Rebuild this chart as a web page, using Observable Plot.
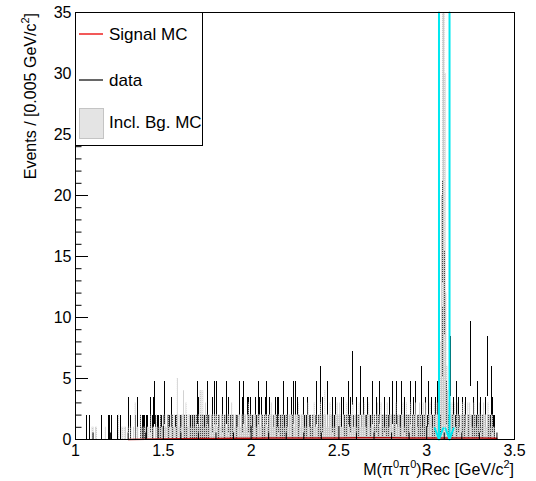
<!DOCTYPE html>
<html><head><meta charset="utf-8">
<script src="https://cdn.jsdelivr.net/npm/d3@7"></script>
<script src="https://cdn.jsdelivr.net/npm/@observablehq/plot@0.6"></script>
<style>body{margin:0;background:#fff} svg{display:block}</style>
</head><body><div id="chart"></div>
<script>
// Histogram binning: 0.005 GeV/c^2 bins starting at 1.000
const binStart = 1.0;
const binWidth = 0.005;

// Data counts per bin (rows of 20 bins = 0.1 GeV/c^2), 1.00 .. 3.40
const dataCounts = [
  0,0,0,0,0,0,0,0,0,0,0,0,1,0,0,0,1,0,0,0,
  0,0,0,0,0,0,0,0,0,1,0,0,0,0,0,0,0,1,1,0,
  1,1,0,0,0,0,0,1,0,0,0,1,0,0,0,0,0,0,0,0,
  2,0,1,0,0,0,0,0,1,0,2,0,0,0,1,0,1,1,1,0,
  1,1,1,0,0,2,0,1,2,0,3,1,0,1,1,0,1,0,1,0,
  1,3,0,0,1,1,0,1,0,2,1,0,0,1,0,1,1,0,0,1,
  1,0,0,1,1,0,1,0,0,1,1,0,0,1,0,1,0,1,0,3,
  2,0,1,0,1,0,1,0,0,1,3,1,0,0,1,0,2,0,3,1,
  3,0,1,0,1,0,1,2,0,1,0,0,3,1,2,0,1,0,1,0,
  1,0,0,1,1,0,3,0,1,0,2,3,0,1,0,2,0,2,1,2,
  0,1,0,0,1,2,1,0,3,2,0,2,1,0,0,1,2,3,0,1,
  1,2,0,1,0,1,0,2,1,0,2,2,0,1,0,1,3,0,1,0,
  1,2,0,1,0,1,2,1,3,0,3,0,2,1,0,1,0,1,0,2,
  1,0,0,1,2,0,1,1,0,1,0,1,0,1,3,0,1,0,4,1,
  0,2,1,0,1,0,3,1,0,1,0,1,2,0,1,1,2,0,1,0,
  1,0,2,1,0,2,1,0,1,1,3,0,1,2,0,5,1,0,1,2,
  0,1,1,0,4,1,0,1,2,0,1,1,2,0,1,0,1,1,3,0,
  1,0,2,1,0,1,3,0,1,1,0,2,0,1,1,0,1,2,0,1,
  3,0,1,1,0,3,1,0,1,0,1,3,0,1,2,0,1,1,0,1,
  1,3,0,1,0,2,1,3,0,1,1,0,1,0,4,1,0,1,2,0,
  1,0,3,1,0,2,1,0,1,1,2,0,3,1,2,1,4,8,17,25,
  12,6,3,2,1,0,1,6,0,1,2,0,1,3,1,0,2,1,0,1,
  2,0,1,1,2,0,1,1,0,7,1,0,1,2,1,0,1,3,0,1,
  1,2,0,1,1,0,2,1,0,6,1,0,1,4,0,2,1,1,0,0
];

// Inclusive background MC per bin
const bgMC = [
  0,0,0,0,0,0,0,0,0,0,0,0,0,0,0,0,0,0,0,1,
  1,0,0,1,1,0,0,0,0,0,0,0,0,0,1,0,0,0,0,0,
  0,0,0,0,0,0,0,0,0,2,0,0,0,1,1,0,1,1,0,0,
  1,0,0,1,0,0,1,0,3,0,1,1,0,0,2,1,1,0,1,1,
  1,0,1,1,0,1,2,0,1,1,0,1,2,1,0,1,1,2,1,1,
  2,1,2,1,1,2,2,1,2,1,2,2,1,2,1,2,5,2,1,2,
  1,2,2,4,2,1,3,2,1,2,2,1,2,1,2,2,1,2,2,1,
  2,1,4,4,2,4,2,1,3,2,2,1,2,2,1,2,2,1,2,2,
  2,2,1,2,2,1,2,2,2,1,2,2,1,2,2,2,1,2,3,2,
  2,1,2,2,1,2,2,2,1,2,2,1,2,2,2,1,2,3,2,2,
  2,2,1,2,2,2,1,2,2,2,2,1,2,2,1,2,2,2,2,1,
  2,2,2,3,2,1,2,2,2,2,1,2,2,1,2,2,2,2,1,2,
  2,2,1,2,2,2,2,2,2,1,2,2,2,2,3,2,1,2,2,2,
  2,1,2,1,2,3,2,1,2,1,2,2,3,2,1,2,1,2,2,3,
  2,1,2,2,4,2,1,2,1,2,3,2,2,1,2,1,2,2,3,2,
  2,3,2,1,1,2,2,1,2,3,2,2,1,2,2,2,3,1,2,2,
  1,2,2,3,2,1,2,2,2,3,2,1,2,2,3,2,1,2,2,1,
  2,2,1,2,3,2,2,1,3,2,2,2,1,2,2,3,2,1,2,2,
  2,1,2,2,2,3,1,2,2,2,1,2,2,3,2,1,2,3,2,2,
  2,2,3,1,2,2,2,3,2,1,2,2,3,2,2,1,3,2,2,3,
  2,1,2,2,3,2,2,1,2,3,2,3,2,3,4,5,8,20,50,80,
  60,30,12,6,4,3,2,3,2,3,2,2,3,1,2,3,2,2,1,2,
  2,3,2,3,2,1,2,3,2,3,2,2,1,2,3,2,2,1,2,2,
  3,2,1,2,2,3,2,2,1,2,3,2,2,1,2,2,1,1,0,0
];

// Signal MC (thin red curve near zero)
const signalX = [1.3,1.4,1.5,1.6,1.7,1.8,1.9,2.0,2.1,2.2,2.3,2.4,2.5,2.6,2.7,2.8,2.9,3.0,3.1,3.2,3.3,3.4];
const signalY = [0.0,0.02,0.05,0.07,0.08,0.09,0.1,0.11,0.12,0.12,0.13,0.13,0.13,0.14,0.14,0.14,0.13,0.13,0.13,0.12,0.12,0.1];

// Signal window (cyan arrows)
const cutLines = [3.07, 3.13];

// Axes
const xTicks = [1, 1.5, 2, 2.5, 3, 3.5];
const yTicks = [0, 5, 10, 15, 20, 25, 30, 35];
const legendLabels = ["Signal MC", "data", "Incl. Bg. MC"];

const W = 536, H = 481, mL = 75, mR = 22, mT = 12, mB = 42;
const frameW = W - mL - mR, frameH = H - mT - mB;

const bins = dataCounts.map((n, i) => ({
  lo: binStart + i * binWidth,
  hi: binStart + (i + 1) * binWidth,
  n, mc: bgMC[i]
}));
const mcPts = bins.map(b => ({x: b.lo, y: b.mc}));
mcPts.push({x: bins[bins.length - 1].hi, y: bins[bins.length - 1].mc});
const dataBars = bins.filter(b => b.n > 0).map(b => ({
  c: (b.lo + b.hi) / 2, y1: b.n - Math.sqrt(b.n), y2: b.n + Math.sqrt(b.n)
}));
const signal = signalX.map((x, i) => ({x, y: signalY[i]}));

const xMinor = d3.range(10, 36).map(d => d / 10).filter(d => !xTicks.includes(d));
const yMinor = d3.range(0, 36).filter(d => !yTicks.includes(d));

const font = "'Liberation Sans', Arial, Helvetica, sans-serif";

const plot = Plot.plot({
  width: W, height: H,
  marginLeft: mL, marginRight: mR, marginTop: mT, marginBottom: mB,
  x: {domain: [1, 3.5]},
  y: {domain: [0, 35], clamp: true},
  style: {fontFamily: font, fontSize: "16px", color: "black", background: "white"},
  marks: [
    Plot.ruleX(dataBars, {x: "c", y1: "y1", y2: "y2", stroke: "black", strokeWidth: 1, shapeRendering: "crispEdges"}),
    Plot.areaY(mcPts, {x: "x", y: "y", curve: "step-after", fill: "url(#mcpat)"}),
    Plot.line(signal, {x: "x", y: "y", stroke: "#b01010", strokeWidth: 1.5}),
    Plot.arrow(cutLines, {x1: d => d, x2: d => d, y1: () => 35, y2: () => 0,
      stroke: "#00e8f0", strokeWidth: 2, headLength: 9, headAngle: 40}),
    Plot.frame({stroke: "black"}),
    Plot.tickY(yTicks, {y: d => d, insetRight: frameW - 13, stroke: "black"}),
    Plot.tickY(yMinor, {y: d => d, insetRight: frameW - 6.5, stroke: "black"}),
    Plot.tickX(xTicks, {x: d => d, insetTop: frameH - 13, stroke: "black"}),
    Plot.tickX(xMinor, {x: d => d, insetTop: frameH - 6.5, stroke: "black"}),
    Plot.axisX(xTicks, {tickSize: 0, tickPadding: 5, tickFormat: d => String(d), label: null, fontSize: 16}),
    Plot.axisY(yTicks, {tickSize: 0, tickPadding: 4, tickFormat: d => String(d), label: null, fontSize: 16})
  ]
});

const svg = d3.select(plot);
// Dotted fill pattern for the background MC (lets data show through as dots)
const pat = svg.insert("defs", ":first-child").append("pattern")
  .attr("id", "mcpat").attr("patternUnits", "userSpaceOnUse")
  .attr("width", 2).attr("height", 2);
pat.append("rect").attr("x", 0).attr("y", 0).attr("width", 2).attr("height", 1).attr("fill", "#cbcbcb");
pat.append("rect").attr("x", 1).attr("y", 1).attr("width", 1).attr("height", 1).attr("fill", "#cbcbcb");
pat.append("rect").attr("x", 0).attr("y", 1).attr("width", 1).attr("height", 1).attr("fill", "#cbcbcb").attr("fill-opacity", 0.35);

// Axis titles
const yt = svg.append("text").attr("transform", `translate(36,${mT + 1}) rotate(-90)`)
  .attr("text-anchor", "end").attr("font-family", font).attr("font-size", 16).attr("fill", "black");
yt.append("tspan").text("Events / [0.005 GeV/c");
yt.append("tspan").attr("font-size", 11).attr("dy", -7).text("2");
yt.append("tspan").attr("dy", 7).text("]");

const xt = svg.append("text").attr("x", W - mR).attr("y", 475)
  .attr("text-anchor", "end").attr("font-family", font).attr("font-size", 16).attr("fill", "black");
xt.append("tspan").text("M(π");
xt.append("tspan").attr("font-size", 11).attr("dy", -7).text("0");
xt.append("tspan").attr("dy", 7).text("π");
xt.append("tspan").attr("font-size", 11).attr("dy", -7).text("0");
xt.append("tspan").attr("dy", 7).text(")Rec [GeV/c");
xt.append("tspan").attr("font-size", 11).attr("dy", -7).text("2");
xt.append("tspan").attr("dy", 7).text("]");

// Legend
const lg = svg.append("g").attr("font-family", font).attr("font-size", 17)
  .attr("fill", "black").attr("text-anchor", "start");
lg.append("rect").attr("x", mL + 0.5).attr("y", mT + 0.5).attr("width", 127).attr("height", 133)
  .attr("fill", "white").attr("stroke", "black");
lg.append("line").attr("x1", 79).attr("x2", 103).attr("y1", 34).attr("y2", 34).attr("stroke", "#ee2222").attr("stroke-width", 1.5);
lg.append("text").attr("x", 109).attr("y", 40).attr("text-anchor", "start").text(legendLabels[0]);
lg.append("line").attr("x1", 79).attr("x2", 103).attr("y1", 80).attr("y2", 80).attr("stroke", "black").attr("stroke-width", 1.2);
lg.append("text").attr("x", 109).attr("y", 86).attr("text-anchor", "start").text(legendLabels[1]);
lg.append("rect").attr("x", 79.5).attr("y", 108.5).attr("width", 24).attr("height", 30)
  .attr("fill", "#e4e4e4").attr("stroke", "#c4c4c4");
lg.append("text").attr("x", 109).attr("y", 128).attr("text-anchor", "start").text(legendLabels[2]);

document.getElementById("chart").appendChild(plot);
</script>
</body></html>
